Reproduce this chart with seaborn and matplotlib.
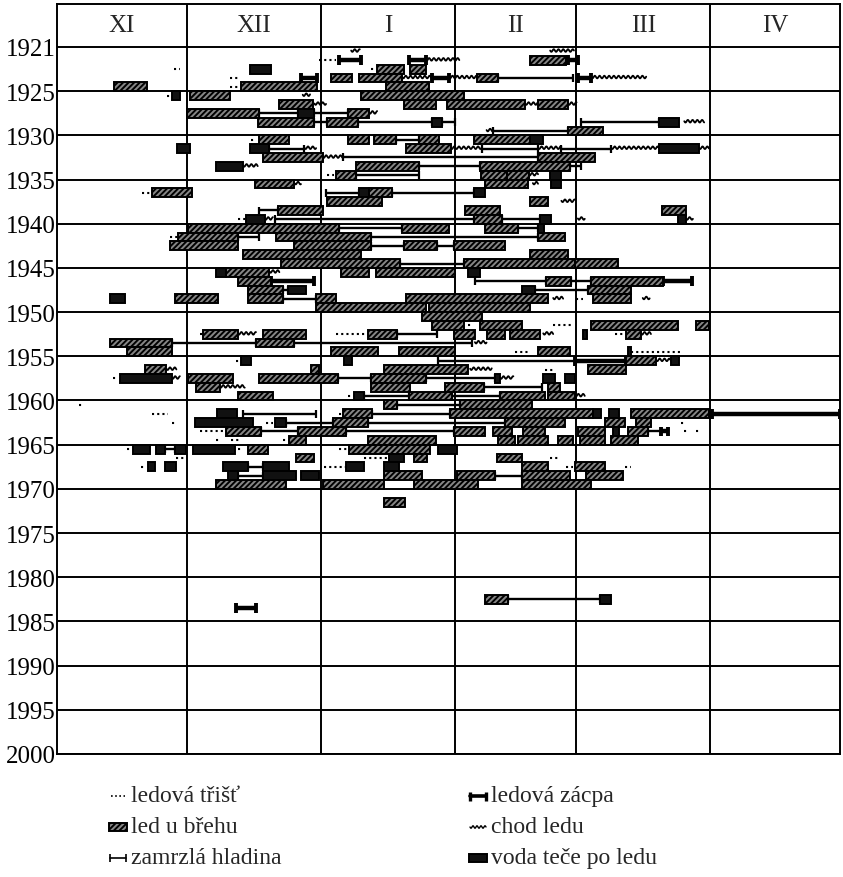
import numpy as np
import pandas as pd
import matplotlib
matplotlib.use('Agg')
import matplotlib.pyplot as plt
from matplotlib.patches import Rectangle
import seaborn as sns

month_names = ['XI', 'XII', 'I', 'II', 'III', 'IV']
month_days = [30, 31, 31, 28, 31, 30]
year_ticks = list(range(1920, 2001, 5))
year_labels = ['1921'] + [str(y) for y in range(1925, 2001, 5)]

# (winter, first day, last day), day 0 = 1st November
slush = [
    (1922, 60.6, 64.5), (1923, 27, 28.5), (1923, 72.5, 73.7), (1924, 40, 42.2), (1925, 40, 42.2),
    (1926, 25.5, 26.5), (1931, 44.9, 46), (1935, 62.5, 64), (1937, 19.6, 21.9), (1940, 41.8, 43.7),
    (1942, 26.1, 28), (1949, 120, 121.6), (1952, 95, 96), (1952, 114.7, 119.3), (1953, 33, 33.8),
    (1953, 64.5, 71.8), (1953, 128.9, 131.2), (1955, 105.9, 109.3), (1955, 132.7, 144.2),
    (1956, 41.4, 42.6), (1957, 112.8, 114.7), (1958, 13, 14.2), (1960, 67.2, 68.7), (1961, 5, 5.8),
    (1962, 21.9, 25.7), (1962, 65.2, 66), (1963, 26.5, 27.2), (1963, 48.3, 49.9), (1963, 144.2, 145.4),
    (1964, 33, 39.1), (1964, 145, 146), (1964, 147.7, 148.8), (1965, 36.8, 38), (1965, 40.3, 42.6),
    (1965, 52.2, 53.7), (1966, 16.1, 17.3), (1966, 41.8, 43), (1966, 65.2, 67.5), (1967, 27.5, 29.9),
    (1967, 71, 76.7), (1967, 113.9, 116.2), (1968, 19.5, 20.3), (1968, 61.8, 66.8),
    (1968, 117.7, 119.3), (1968, 131.2, 132.7),
]

shore_ice = [
    (1922, 109.3, 117.7), (1923, 74, 80.2), (1923, 81.7, 85.2),
    (1924, 63.3, 68.3), (1924, 69.8, 79.8), (1924, 97, 102),
    (1925, 13.2, 20.9), (1925, 42.6, 60.2), (1925, 76, 86),
    (1926, 30.7, 39.9), (1926, 70.2, 94),
    (1927, 51.3, 59.1), (1927, 80.2, 87.5), (1927, 90.1, 108.2), (1927, 111.2, 118.1),
    (1928, 30, 46.8), (1928, 67.2, 72.1), (1929, 46.4, 59.5), (1929, 62.5, 69.5),
    (1930, 118.1, 126.2),
    (1931, 46.8, 53.7), (1931, 67.2, 72.1), (1931, 73.3, 78.3), (1931, 83.7, 88.3), (1931, 96.3, 109.3),
    (1932, 80.6, 91), (1933, 47.6, 61.4), (1933, 111.2, 124.3),
    (1934, 69.1, 83.7), (1934, 97.8, 118.5),
    (1935, 64.5, 69.1), (1935, 98, 104), (1935, 104, 109),
    (1936, 45.7, 54.9), (1936, 98.9, 108.9), (1937, 21.9, 31.1), (1937, 72.1, 77.5),
    (1938, 62.5, 75.2), (1938, 109.3, 113.5),
    (1939, 51, 61.4), (1939, 94.3, 102.4), (1939, 139.8, 145.4), (1940, 96.3, 102.8),
    (1941, 30.3, 65.2), (1941, 79.8, 90.6), (1941, 99, 106.6),
    (1942, 28, 41.8), (1942, 50.7, 72.5), (1942, 111.2, 117.4),
    (1943, 26.1, 41.8), (1943, 54.9, 72.5), (1943, 80.2, 87.9), (1943, 91.7, 103.5),
    (1944, 43, 70.2), (1944, 109.3, 118.1),
    (1945, 51.8, 79.4), (1945, 94, 119.7), (1945, 119.7, 129.6),
    (1946, 39.1, 49.1), (1946, 65.6, 72.1), (1946, 73.7, 92),
    (1947, 41.8, 49.5), (1947, 113.1, 118.9), (1947, 123.5, 140),
    (1948, 44.1, 52.2), (1948, 122.7, 132.7),
    (1949, 27.2, 37.2), (1949, 44.1, 52.2), (1949, 59.9, 64.5), (1949, 80.6, 113.5), (1949, 123.9, 132.7),
    (1950, 59.9, 85.2), (1950, 86, 109.3), (1951, 84.4, 98.2),
    (1952, 86.7, 94), (1952, 97.8, 107.4), (1952, 123.5, 143.5), (1952, 147.7, 150.7),
    (1953, 33.8, 41.8), (1953, 47.6, 57.6), (1953, 71.8, 78.7), (1953, 91.7, 96.6),
    (1953, 99.3, 103.5), (1953, 104.7, 111.6), (1953, 131.6, 135),
    (1954, 12.3, 26.5), (1954, 46, 54.9),
    (1955, 16.1, 26.5), (1955, 63.3, 74.1), (1955, 79, 92), (1955, 111.2, 118.5),
    (1956, 131.6, 138.5),
    (1957, 20.3, 25.3), (1957, 58.7, 60.6), (1957, 75.6, 95.1), (1957, 122.7, 131.6),
    (1958, 30.3, 40.7), (1958, 46.8, 64.9), (1958, 72.5, 85.2),
    (1959, 32.2, 37.6), (1959, 72.5, 81.7), (1959, 89.7, 98.6), (1959, 113.5, 116.2),
    (1960, 41.8, 49.9), (1960, 81.4, 91.3), (1960, 102.4, 112.8), (1960, 113.5, 119.7),
    (1961, 75.6, 78.7), (1961, 93.2, 109.7),
    (1962, 66, 72.9), (1962, 90.9, 123.9), (1962, 132.7, 150.7),
    (1963, 63.7, 71.8), (1963, 103.5, 117.4), (1963, 126.6, 131.2), (1963, 133.9, 137.3),
    (1964, 39.1, 47.2), (1964, 55.6, 66.8), (1964, 91.7, 99), (1964, 100.9, 105.1),
    (1964, 107.8, 112.8), (1964, 120.4, 126.6), (1964, 132, 136.6),
    (1965, 53.7, 57.6), (1965, 71.8, 87.5), (1965, 102, 105.9), (1965, 106.6, 113.5),
    (1965, 115.8, 119.3), (1965, 120.8, 126.6), (1965, 128.1, 134.2),
    (1966, 44.1, 48.7), (1966, 67.5, 86.3),
    (1967, 55.3, 59.5), (1967, 82.5, 85.6), (1967, 101.6, 107.4),
    (1968, 107.4, 113.5), (1968, 119.7, 126.6),
    (1969, 75.6, 84.4), (1969, 92.4, 101.2), (1969, 107.4, 118.5), (1969, 122.3, 130.8),
    (1970, 36.8, 53), (1970, 61.4, 75.6), (1970, 82.5, 97.4), (1970, 107.4, 123.5),
    (1972, 75.7, 80.4), (1983, 98.9, 104.2),
]

water_on_ice = [
    (1923, 44.7, 49.5), (1926, 26.5, 28.4), (1928, 55.6, 59.5), (1929, 86.7, 89), (1929, 139.2, 143.8),
    (1931, 109.3, 112.4), (1932, 27.8, 30.7), (1932, 44.5, 49.1), (1932, 139.2, 148.4),
    (1934, 36.8, 43), (1935, 114, 116.6), (1936, 114.3, 116.6), (1937, 69.8, 72.1), (1937, 96.3, 99),
    (1940, 43.7, 48), (1940, 111.6, 114.3), (1940, 143.5, 145.4), (1941, 111.2, 112.5),
    (1946, 36.8, 39.1), (1946, 95.1, 97.8), (1948, 53.3, 57.6), (1948, 107.4, 110.5),
    (1949, 12.3, 15.7), (1953, 121.6, 122.6), (1955, 132, 132.8),
    (1956, 42.6, 44.9), (1956, 66.4, 68.3), (1956, 142, 143.8),
    (1958, 14.6, 26.5), (1958, 101.2, 102.4), (1958, 112.4, 115.1), (1958, 117.4, 119.7),
    (1960, 68.7, 71), (1962, 37, 41.5), (1962, 123.9, 125.8), (1962, 127.7, 130),
    (1963, 31.8, 45.3), (1963, 50.3, 53), (1964, 128.5, 130),
    (1966, 17.6, 21.5), (1966, 23, 24.9), (1966, 27.2, 29.9), (1966, 31.5, 41.1), (1966, 88, 92.4),
    (1967, 76.7, 80.2),
    (1968, 21.1, 22.6), (1968, 24.9, 27.6), (1968, 38.4, 44.1), (1968, 47.6, 53.7),
    (1968, 66.8, 71), (1968, 75.6, 79),
    (1969, 39.5, 41.8), (1969, 47.6, 55.3), (1969, 56.4, 60.6), (1983, 125.5, 128),
]

frozen = [
    (1924, 102, 119.3), (1928, 46.8, 55.6), (1928, 59.5, 67.2),
    (1929, 59.5, 62.5), (1929, 69.5, 86.7), (1929, 89, 92), (1929, 121.2, 139.2),
    (1930, 100.9, 118.1), (1931, 78.3, 83.7),
    (1932, 49.1, 57.2), (1932, 98.2, 111.2), (1932, 116.6, 128.1),
    (1933, 66, 111.2), (1934, 83.7, 97.8), (1934, 118.5, 121.2), (1935, 69.1, 83.7),
    (1937, 62.2, 69.8), (1937, 77.5, 96.3), (1939, 46.8, 51),
    (1940, 50.3, 96.3), (1940, 102.8, 111.6), (1941, 65.2, 79.8), (1941, 106.6, 111.2),
    (1942, 41.8, 46.8), (1942, 72.5, 111.2), (1943, 72.5, 80.2), (1943, 87.9, 91.7),
    (1945, 79.4, 94), (1947, 96.6, 113.1), (1947, 118.9, 123.5),
    (1948, 52.2, 53.3), (1948, 110.5, 122.7), (1949, 52.2, 59.9), (1953, 78.7, 87.9),
    (1954, 26.5, 46), (1954, 54.9, 95.9), (1956, 88, 119.7),
    (1958, 64.9, 72.5), (1958, 85.2, 101.2), (1959, 98.6, 112),
    (1960, 71, 81.4), (1960, 91.3, 102.4), (1961, 78.7, 93.2),
    (1962, 43, 59.9), (1962, 72.9, 90.9), (1963, 53, 63.7), (1963, 71.8, 103.5),
    (1964, 47.2, 55.6), (1964, 66.8, 91.7), (1964, 136.6, 139.6),
    (1966, 24.9, 27.2), (1968, 44.1, 47.6), (1969, 41.8, 47.6), (1969, 101.2, 107.4),
    (1983, 104.2, 125.5),
]

jam = [
    (1922, 65.2, 70.2), (1922, 81.4, 85.2), (1922, 118.1, 120.4),
    (1924, 56.4, 60.2), (1924, 86.7, 90.6), (1924, 120.4, 123.5),
    (1947, 49.5, 59.5), (1947, 140, 146.9), (1956, 119.7, 131.6),
    (1962, 151.5, 181), (1964, 139.6, 141.2), (1984, 41.3, 46),
]

ice_run = [
    (1921, 68, 70), (1921, 114, 119.5), (1922, 85.2, 93),
    (1924, 79.8, 86.7), (1924, 90.6, 97), (1924, 123.5, 136.2), (1926, 56.8, 58.5),
    (1927, 59.5, 62.2), (1927, 108.2, 111.2), (1927, 118.1, 120.1), (1928, 72.1, 74),
    (1929, 145, 149.6), (1930, 99.3, 100.9),
    (1932, 57.2, 59.9), (1932, 91, 98.2), (1932, 111.2, 116.6), (1932, 128.1, 139.2), (1932, 148.4, 150.7),
    (1933, 61.4, 66), (1934, 43, 46.4), (1935, 109, 111.2), (1936, 54.9, 56.4), (1936, 110, 111.2),
    (1938, 116.6, 119.7), (1940, 48, 49.9), (1940, 120.4, 122), (1940, 145.4, 147),
    (1946, 49.1, 51.4), (1949, 114.7, 117), (1949, 135.4, 137),
    (1953, 41.8, 46), (1953, 112.4, 114.7), (1953, 135, 137.3), (1954, 96.6, 99.3),
    (1956, 138.5, 142), (1957, 25.3, 27.6), (1957, 95.5, 100.5),
    (1958, 26.5, 28.4), (1958, 102.4, 105.5), (1959, 37.6, 43.4), (1960, 119.7, 122),
]

legend_labels = {
    'slush': 'ledová třišť', 'shore': 'led u břehu', 'frozen': 'zamrzlá hladina',
    'jam': 'ledová zácpa', 'run': 'chod ledu', 'water': 'voda teče po ledu',
}


def frame(kind, rows):
    df = pd.DataFrame(rows, columns=['winter', 'start', 'end'])
    df['kind'] = kind
    df['row'] = df['winter'] - 0.5
    return df


events = pd.concat([frame('slush', slush), frame('shore', shore_ice), frame('water', water_on_ice),
                    frame('frozen', frozen), frame('jam', jam), frame('run', ice_run)],
                   ignore_index=True)

sns.set_theme(style='white')
plt.rcParams['font.family'] = ['Liberation Serif', 'DejaVu Serif']
plt.rcParams['hatch.linewidth'] = 1.4

BAR = dict(facecolor='#868686', edgecolor='black', hatch='//////', linewidth=1.4)
WATER = dict(facecolor='#111111', edgecolor='black', linewidth=1.4)


def wavy(ax, y, x0, x1, amp, period, **kw):
    xs = np.linspace(x0, x1, max(int((x1 - x0) * 12), 10))
    ax.plot(xs, y + amp * np.sin((xs - x0) * 2 * np.pi / period), color='black', **kw)


def capped(ax, y, x0, x1, half, lw, cap_lw):
    ax.plot([x0, x1], [y, y], color='black', lw=lw, solid_capstyle='butt', zorder=2)
    ax.vlines([x0, x1], y - half, y + half, color='black', lw=cap_lw, zorder=2)


fig = plt.figure(figsize=(8.43, 8.78), dpi=100)
ax = fig.add_axes([57 / 843, 123 / 878, 783 / 843, 750 / 878])
bounds = np.concatenate([[0], np.cumsum(month_days)])
y_top = 1920 - 43 / 8.84
ax.set_xlim(0, bounds[-1])
ax.set_ylim(2000, y_top)

ax.hlines(year_ticks, 0, bounds[-1], color='black', lw=1.4, zorder=1)
ax.vlines(bounds[1:-1], y_top, 2000, color='black', lw=1.4, zorder=1)
for i, name in enumerate(month_names):
    ax.text((bounds[i] + bounds[i + 1]) / 2, 1917.55, name, ha='center', va='center', fontsize=18)

for _, e in events[events.kind == 'slush'].iterrows():
    ax.plot([e.start, e.end], [e.row, e.row], color='black', lw=1.5, ls=(0, (1, 1.5)), zorder=2)
for _, e in events[events.kind == 'frozen'].iterrows():
    capped(ax, e.row, e.start, e.end, 0.45, 1.7, 1.6)
for _, e in events[events.kind == 'jam'].iterrows():
    capped(ax, e.row, e.start, e.end, 0.55, 3.2, 2.8)
for _, e in events[events.kind == 'run'].iterrows():
    wavy(ax, e.row - 0.1, e.start, e.end, 0.15, 1.1, lw=1.3, zorder=2)

shore = events[events.kind == 'shore']
ax.barh(shore['row'], shore['end'] - shore['start'], left=shore['start'], height=1.0, zorder=3, **BAR)
water = events[events.kind == 'water']
ax.barh(water['row'], water['end'] - water['start'], left=water['start'], height=1.0, zorder=3, **WATER)

ax.set_xticks([])
ax.set_yticks(year_ticks, year_labels)
ax.tick_params(axis='y', length=0, pad=1, labelsize=18, labelcolor='black')
for s in ax.spines.values():
    s.set_color('black')
    s.set_linewidth(1.4)
    s.set_visible(True)

# legend drawn in pixel space below the chart
lax = fig.add_axes([0, 0, 1, 123 / 878])
lax.set_xlim(0, 843)
lax.set_ylim(878, 755)
lax.axis('off')
col_x = [110, 470]
row_y = [797, 828, 859]
order = [['slush', 'shore', 'frozen'], ['jam', 'run', 'water']]
for c, kinds in enumerate(order):
    x0 = col_x[c]
    for r, kind in enumerate(kinds):
        y = row_y[r]
        if kind == 'slush':
            lax.plot([x0 + 1, x0 + 15], [y, y], color='black', lw=1.2, ls=(0, (1, 1.5)))
        elif kind == 'shore':
            lax.add_patch(Rectangle((x0 - 1, y - 4), 18, 8, **BAR))
        elif kind == 'water':
            lax.add_patch(Rectangle((x0 - 1, y - 4), 18, 8, **WATER))
        elif kind == 'frozen':
            lax.plot([x0, x0 + 16], [y, y], color='black', lw=1.2)
            lax.vlines([x0, x0 + 16], y - 4, y + 4, color='black', lw=1.2)
        elif kind == 'jam':
            lax.plot([x0, x0 + 16], [y, y], color='black', lw=2.6)
            lax.vlines([x0, x0 + 16], y - 4.5, y + 4.5, color='black', lw=2.4)
        elif kind == 'run':
            xs = np.linspace(x0, x0 + 16, 60)
            lax.plot(xs, y + 1.2 * np.sin((xs - x0) * 2 * np.pi / 4), color='black', lw=1.0)
        lax.text(x0 + 21, y, legend_labels[kind], ha='left', va='center', fontsize=17)

fig.savefig('out.png', dpi=100)
